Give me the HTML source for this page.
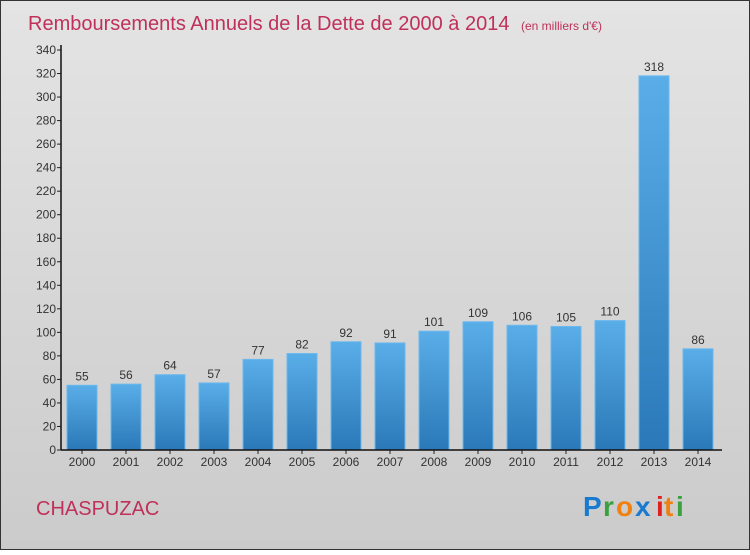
<!DOCTYPE html>
<html><head><meta charset="utf-8"><style>
body{margin:0}
#c{width:750px;height:550px;position:relative;font-family:"Liberation Sans",sans-serif}
</style></head><body>
<div id="c">
<svg id="s" width="750" height="550" xmlns="http://www.w3.org/2000/svg">
<defs>
<linearGradient id="bg" x1="0" y1="0" x2="0" y2="1"><stop offset="0" stop-color="#e4e4e4"/><stop offset="1" stop-color="#cbcbcb"/></linearGradient>
<linearGradient id="bar" x1="0" y1="0" x2="0" y2="1"><stop offset="0" stop-color="#5aaee8"/><stop offset="1" stop-color="#2a78b8"/></linearGradient>
</defs>
<rect x="0.5" y="0.5" width="749" height="549" fill="url(#bg)" stroke="#333"/>
<text x="28" y="30" font-size="20" fill="#c0305a">Remboursements Annuels de la Dette de 2000 à 2014 <tspan font-size="12" dx="6">(en milliers d'€)</tspan></text>
<g id="plot"></g>
<text x="36" y="515" font-size="20" fill="#c0305a">CHASPUZAC</text>
<g font-size="28" font-weight="bold">
<text x="583" y="516" fill="#1a7ad0">P</text><text x="603" y="516" fill="#3aa040">r</text><text x="616" y="516" fill="#f08010">o</text><text x="635" y="516" fill="#1a7ad0">x</text><text x="656" y="516" fill="#e02020">i</text><text x="664" y="516" fill="#f08010">t</text><text x="676" y="516" fill="#3aa040">i</text>
</g>
</svg>
</div>
<script>
const categories=["2000","2001","2002","2003","2004","2005","2006","2007","2008","2009","2010","2011","2012","2013","2014"];
const values=[55,56,64,57,77,82,92,91,101,109,106,105,110,318,86];
const yTicks=[0,20,40,60,80,100,120,140,160,180,200,220,240,260,280,300,320,340];
const NS="http://www.w3.org/2000/svg";
const g=document.getElementById('plot');
const x0=61,x1=722,yB=450,yT=50,yMax=340;
const y=v=>yB-(v/yMax)*(yB-yT);
const step=44,first=82,bw=30;
const xc=i=>first+i*step;
function el(t,a,txt){const e=document.createElementNS(NS,t);for(const k in a)e.setAttribute(k,a[k]);if(txt!==undefined)e.textContent=txt;g.appendChild(e);return e;}
yTicks.forEach(t=>{
 const l=el('line',{x1:x0-4,x2:x0,y1:y(t),y2:y(t),stroke:'#222'});
 
 
 const tx=el('text',{x:x0-5,y:y(t)+4,'font-size':12,'text-anchor':'end',fill:'#333'},t);
 
 
});
values.forEach((v,i)=>{
 const r=el('rect',{x:xc(i)-bw/2,y:y(v),width:bw,height:yB-y(v),fill:'url(#bar)',stroke:'#6bb8ee','stroke-width':1});
 
 
 const t=el('text',{x:xc(i),y:y(v)-5,'font-size':12,'text-anchor':'middle',fill:'#333'},v);
 
 
 const c=el('text',{x:xc(i),y:yB+16,'font-size':12,'text-anchor':'middle',fill:'#333'},categories[i]);
 
 
 const tk=el('line',{x1:xc(i),x2:xc(i),y1:yB,y2:yB+4,stroke:'#222'});
 
 
});
const ya=el('line',{x1:x0,x2:x0,y1:yT-5,y2:yB,stroke:'#111','stroke-width':1.5});


const xa=el('line',{x1:x0,x2:x1,y1:yB,y2:yB,stroke:'#111','stroke-width':1.5});


</script>
</body></html>
